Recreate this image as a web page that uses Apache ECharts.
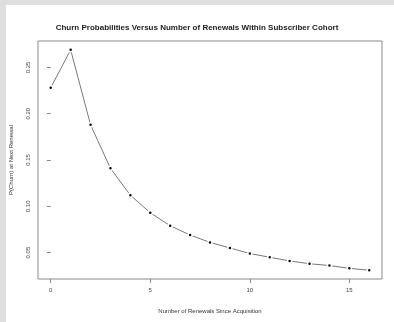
<!DOCTYPE html>
<html>
<head>
<meta charset="utf-8">
<script src="https://cdn.jsdelivr.net/npm/echarts@6/dist/echarts.min.js"></script>
<style>
html, body { margin: 0; padding: 0; background: #dedede; }
#panel { position: absolute; left: 6px; top: 5px; width: 388px; height: 317px; background: #ffffff; }
#chart { position: absolute; left: 0; top: 0; width: 394px; height: 322px; }
</style>
</head>
<body>
<div id="panel"></div>
<div id="chart"></div>
<script>
// renewals since acquisition and churn probability at next renewal
var renewals = [0, 1, 2, 3, 4, 5, 6, 7, 8, 9, 10, 11, 12, 13, 14, 15, 16];
var churnProb = [0.228, 0.269, 0.188, 0.141, 0.112, 0.093, 0.079, 0.069, 0.061, 0.055,
	0.049, 0.045, 0.041, 0.038, 0.036, 0.033, 0.031];
var xTicks = [0, 5, 10, 15];
var yTicks = [0.05, 0.10, 0.15, 0.20, 0.25];

var seriesData = [];
for (var i = 0; i < renewals.length; i++) {
	seriesData.push([renewals[i], churnProb[i]]);
}

var font = 'Liberation Sans, Arial, sans-serif';
var chart = echarts.init(document.getElementById('chart'));
var option = {
	animation : false,
	title : {
		text : 'Churn Probabilities Versus Number of Renewals Within Subscriber Cohort',
		left : 'center',
		top : 19,
		textStyle : {
			fontFamily : font,
			fontSize : 8,
			fontWeight : 'bold',
			color : '#222'
		}
	},
	grid : {
		left : 37,
		top : 41,
		right : 12,
		bottom : 43,
		show : true,
		borderColor : '#8a8a8a',
		borderWidth : 1,
		backgroundColor : 'transparent'
	},
	xAxis : {
		type : 'value',
		min : -0.64,
		max : 16.64,
		name : 'Number of Renewals Since Acquisition',
		nameLocation : 'middle',
		nameGap : 29,
		nameTextStyle : { fontFamily : font, fontSize : 6, color : '#333' },
		axisLine : { show : false },
		splitLine : { show : false },
		axisTick : {
			show : true,
			length : 4,
			customValues : xTicks,
			lineStyle : { color : '#8a8a8a' }
		},
		axisLabel : {
			customValues : xTicks,
			margin : 8,
			fontFamily : font,
			fontSize : 6,
			color : '#444'
		}
	},
	yAxis : {
		type : 'value',
		min : 0.0215,
		max : 0.2785,
		name : 'P(Churn) at Next Renewal',
		nameLocation : 'middle',
		nameGap : 24,
		nameRotate : 90,
		nameTextStyle : { fontFamily : font, fontSize : 6, color : '#333' },
		axisLine : { show : false },
		splitLine : { show : false },
		axisTick : {
			show : true,
			length : 4,
			customValues : yTicks,
			lineStyle : { color : '#8a8a8a' }
		},
		axisLabel : {
			customValues : yTicks,
			rotate : 90,
			margin : 7,
			fontFamily : font,
			fontSize : 6,
			color : '#444',
			formatter : function (v) { return v.toFixed(2); }
		}
	},
	series : [
		{
			type : 'line',
			data : seriesData,
			showSymbol : true,
			symbol : 'circle',
			symbolSize : 4,
			itemStyle : { color : '#000', borderColor : '#ffffff', borderWidth : 1.5 },
			lineStyle : { color : '#777', width : 1 }
		}
	]
};
chart.setOption(option);
</script>
</body>
</html>
